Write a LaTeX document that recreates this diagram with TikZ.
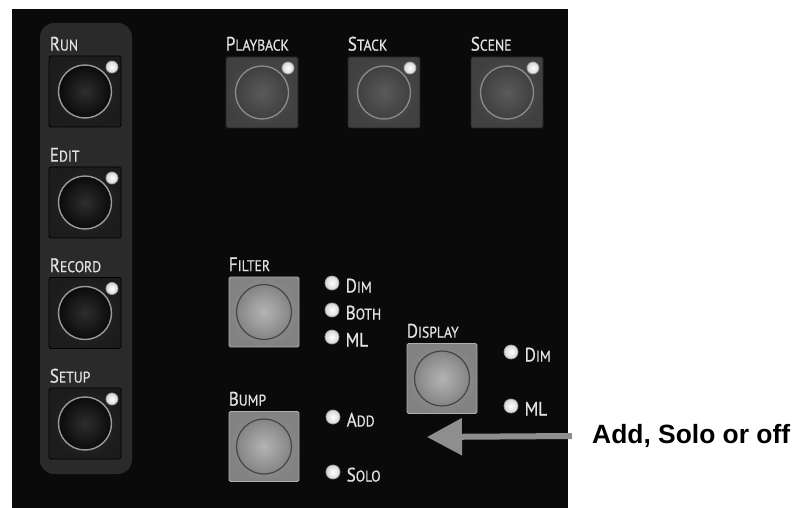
\documentclass[tikz,border=0pt]{standalone}
\usepackage{fontspec}
\setmainfont{Liberation Sans}
\newfontfamily\capfont[FakeStretch=0.88, FakeBold=0.6]{PT Sans}
\usetikzlibrary{arrows.meta,calc}

\definecolor{panelbg}{HTML}{0A0A0A}
\definecolor{stripbg}{HTML}{2A2A2A}
\definecolor{labelgrey}{HTML}{E2E2E2}
\definecolor{arrowgrey}{HTML}{8E8E8E}

% small-caps style label: first letter full size, the rest smaller capitals
\newcommand{\sclabel}[2]{{\capfont\fontsize{19.5}{19.5}\selectfont #1\fontsize{15.5}{15.5}\selectfont #2}}

\tikzset{
  caption/.style={anchor=base west, inner sep=0pt, text=labelgrey},
  % dark buttons of the left column
  darksq/.style={rectangle, rounded corners=1.5pt, minimum width=72pt, minimum height=71pt,
    inner sep=0pt, draw=black, line width=0.8pt, inner color={rgb,255:red,42;green,42;blue,42},
    outer color={rgb,255:red,28;green,28;blue,28}},
  darkknob/.style={circle, minimum size=53pt, inner sep=0pt,
    draw={rgb,255:red,155;green,155;blue,155}, line width=1.4pt,
    inner color={rgb,255:red,46;green,46;blue,46}, outer color={rgb,255:red,10;green,10;blue,10}},
  % mid-grey buttons of the top row
  midsq/.style={rectangle, rounded corners=1.5pt, minimum width=72pt, minimum height=71pt,
    inner sep=0pt, draw={rgb,255:red,35;green,35;blue,35}, line width=0.8pt,
    inner color={rgb,255:red,84;green,84;blue,84}, outer color={rgb,255:red,64;green,64;blue,64}},
  midknob/.style={circle, minimum size=53pt, inner sep=0pt,
    draw={rgb,255:red,140;green,140;blue,140}, line width=1.3pt,
    inner color={rgb,255:red,90;green,90;blue,90}, outer color={rgb,255:red,64;green,64;blue,64}},
  % light grey buttons of the lower group
  lightsq/.style={rectangle, rounded corners=1.5pt, minimum width=70pt, minimum height=70pt,
    inner sep=0pt, draw={rgb,255:red,175;green,175;blue,175}, line width=0.8pt,
    inner color={rgb,255:red,152;green,152;blue,152}, outer color={rgb,255:red,130;green,130;blue,130}},
  lightknob/.style={circle, minimum size=55pt, inner sep=0pt,
    draw={rgb,255:red,70;green,70;blue,70}, line width=1.2pt,
    inner color={rgb,255:red,180;green,180;blue,180}, outer color={rgb,255:red,132;green,132;blue,132}},
  % indicator lamps
  led/.style={circle, minimum size=12pt, inner sep=0pt, draw=white!62!black, line width=0.7pt,
    inner color=white, outer color=white!84!black},
  bigled/.style={led, minimum size=14pt},
  arrowline/.style={draw=arrowgrey, line width=6pt,
    -{Triangle[length=35pt, width=36pt, fill=arrowgrey]}},
}

\begin{document}
\begin{tikzpicture}[x=1pt, y=-1pt]
\useasboundingbox (0,0) rectangle (796,508);
\fill[white] (0,0) rectangle (796,508);
\fill[panelbg] (12,9) rectangle (568,508);
\fill[stripbg, rounded corners=14pt] (40,23) rectangle (132,474);

% left column
\foreach \nm/\yy/\a/\b in {run/91.5/R/UN, edit/202.5/E/DIT, record/313/R/ECORD, setup/423.5/S/ETUP}{
  \node[darksq] (\nm sq) at (85,\yy) {};
  \node[darkknob] (\nm knob) at (\nm sq.center) {};
  \node[led] (\nm led) at ($(\nm sq.center)+(27,-24.5)$) {};
  \node[caption] (\nm lab) at ($(\nm sq.north west)+(1,-5)$) {\sclabel{\a}{\b}};
}

% top row
\foreach \nm/\xx/\a/\b in {playback/262/P/LAYBACK, stack/384/S/TACK, scene/507/S/CENE}{
  \node[midsq] (\nm sq) at (\xx,92.5) {};
  \node[midknob] (\nm knob) at (\nm sq.center) {};
  \node[led] (\nm led) at ($(\nm sq.center)+(26,-24.5)$) {};
  \node[caption] (\nm lab) at ($(\nm sq.north west)+(0,-6)$) {\sclabel{\a}{\b}};
}

% lower group
\foreach \nm/\xx/\yy/\a/\b in {filter/264/312/F/ILTER, display/442/378.5/D/ISPLAY, bump/264/446.5/B/UMP}{
  \node[lightsq] (\nm sq) at (\xx,\yy) {};
  \node[lightknob] (\nm knob) at (\nm sq.center) {};
  \node[caption] (\nm lab) at ($(\nm sq.north west)+(0,-5.5)$) {\sclabel{\a}{\b}};
}

% indicator lamps with their captions
\foreach \nm/\xx/\yy/\txt in {fdim/332/283/{\sclabel{D}{IM}}, fboth/332/310/{\sclabel{B}{OTH}},
    fml/332/337/{\sclabel{ML}{}}, ddim/511/352/{\sclabel{D}{IM}}, dml/511/406/{\sclabel{ML}{}},
    badd/333/417/{\sclabel{A}{DD}}, bsolo/333/472/{\sclabel{S}{OLO}}}{
  \node[bigled] (\nm) at (\xx,\yy) {};
  \node[caption] (\nm lab) at ($(\nm.center)+(13.5,9.5)$) {\txt};
}

% note and pointer
\node[anchor=west, inner xsep=20pt, inner ysep=0pt, font=\bfseries\fontsize{26.4}{26.4}\selectfont]
  (note) at (572,436) {Add, Solo or off};
\coordinate (tip) at (427,437);
\draw[arrowline] (note.west) -- (tip);
\end{tikzpicture}
\end{document}
